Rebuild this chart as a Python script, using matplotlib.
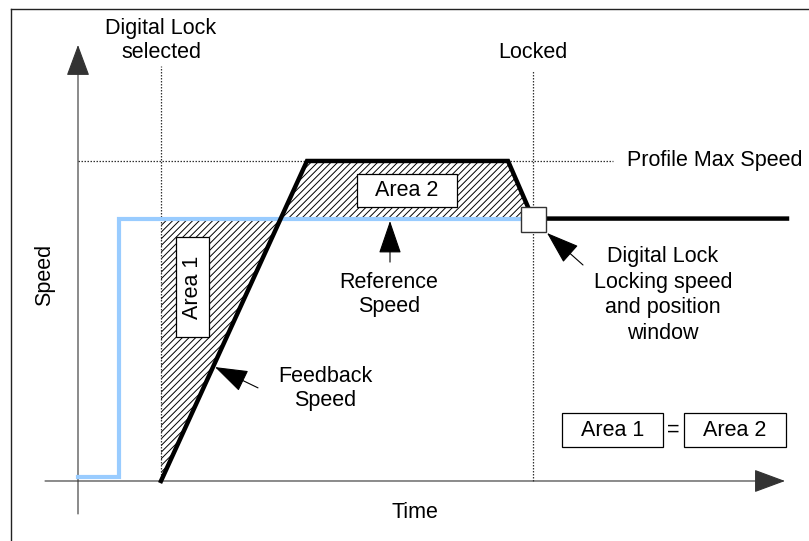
import matplotlib
matplotlib.use("Agg")
import matplotlib.pyplot as plt
from matplotlib.patches import Rectangle, Polygon
from matplotlib.lines import Line2D

plt.rcParams["font.family"] = ["Liberation Sans", "DejaVu Sans"]
plt.rcParams["hatch.linewidth"] = 0.7

# profile data (time units, speed in % of profile max)
ref_t = [0, 4.1, 4.1, 45.5]
ref_v = [1.2, 1.2, 82, 82]
fb_t = [8.3, 22.9, 43.0, 45.5, 70.9]
fb_v = [0, 100, 100, 82, 82]
t_select = 8.3
t_locked = 45.5
v_max = 100
v_ref = 82

# crossing of the feedback ramp with the reference speed
t_cross = fb_t[0] + (fb_t[1] - fb_t[0]) * v_ref / v_max

fig = plt.figure(figsize=(8.09, 5.41), dpi=100)
ax = fig.add_axes([0, 0, 1, 1])
ax.set_xlim(-7.8, 73.1)
ax.set_ylim(-18.75, 150.3)
ax.axis("off")

# frame (left and top edges only visible)
fig.add_artist(Line2D([11 / 809, 11 / 809], [0, 1 - 9 / 541], color="#222222", lw=1))
fig.add_artist(Line2D([11 / 809, 1], [1 - 9 / 541, 1 - 9 / 541], color="#222222", lw=1))

# hatched areas
area1 = Polygon([(t_select, 0), (t_select, v_ref), (t_cross, v_ref)], closed=True,
                facecolor="white", edgecolor="black", hatch="/////", lw=0, zorder=1)
area2 = Polygon([(t_cross, v_ref), (fb_t[1], v_max), (fb_t[2], v_max), (fb_t[3], v_ref)],
                closed=True, facecolor="white", edgecolor="black", hatch="/////", lw=0, zorder=1)
ax.add_patch(area1)
ax.add_patch(area2)

# axes with arrows
arrow_axis = dict(arrowstyle="-|>,head_length=1.0,head_width=0.37", mutation_scale=20,
                  color="#333333", lw=0.8, shrinkA=0, shrinkB=0)
ax.annotate("", xy=(0, 136.25), xytext=(0, -10.3), arrowprops=arrow_axis)
ax.annotate("", xy=(70.7, 0), xytext=(-3.3, 0), arrowprops=arrow_axis)

# dotted guides
dot = dict(color="#333333", lw=0.9, linestyle=(0, (1.2, 1.2)), zorder=3)
ax.plot([t_select, t_select], [0, 129.7], **dot)
ax.plot([t_locked, t_locked], [0, 128.4], **dot)
ax.plot([0, 53.5], [v_max, v_max], **dot)

# speed traces
ax.plot(ref_t, ref_v, color="#99CCFF", lw=3, solid_joinstyle="miter", zorder=4)
ax.plot(fb_t, fb_v, color="black", lw=3.2, solid_joinstyle="miter", zorder=5)
ax.plot([t_locked], [v_ref], marker="s", markersize=18, markerfacecolor="white",
        markeredgecolor="#333333", markeredgewidth=1, zorder=6)

fs = 15.5

# area boxes
def box(x0, x1, y0, y1, label, rot=0):
    ax.add_patch(Rectangle((x0, y0), x1 - x0, y1 - y0, facecolor="white",
                           edgecolor="black", lw=0.9, zorder=7))
    ax.text((x0 + x1) / 2, (y0 + y1) / 2, label, ha="center", va="center",
            rotation=rot, fontsize=fs, zorder=8)

box(27.9, 37.9, 85.6, 95.9, "Area 2")
box(9.8, 13.1, 45.0, 76.25, "Area 1", rot=90)
box(48.4, 58.5, 10.6, 21.25, "Area 1")
box(60.6, 70.8, 10.6, 21.25, "Area 2")
ax.text(59.55, 15.9, "=", ha="center", va="center", fontsize=fs)

# labels
ax.text(t_select, 137.7, "Digital Lock\nselected", ha="center", va="center",
        fontsize=fs, linespacing=1.2)
ax.text(t_locked, 133.75, "Locked", ha="center", va="center", fontsize=fs)
ax.text(54.9, v_max, "Profile Max Speed", ha="left", va="center", fontsize=fs)
ax.text(31.1, 58.3, "Reference\nSpeed", ha="center", va="center", fontsize=fs, linespacing=1.2)
ax.text(24.7, 28.9, "Feedback\nSpeed", ha="center", va="center", fontsize=fs, linespacing=1.2)
ax.text(58.5, 58.1, "Digital Lock\nLocking speed\nand position\nwindow", ha="center",
        va="center", fontsize=fs, linespacing=1.3)
ax.text(-3.3, 64.4, "Speed", ha="center", va="center", rotation=90, fontsize=fs)
ax.text(33.7, -10, "Time", ha="center", va="center", fontsize=fs)

# pointer arrows
arrow_note = dict(arrowstyle="-|>,head_length=1.05,head_width=0.36", mutation_scale=20,
                  color="black", lw=0.8, shrinkA=0, shrinkB=0)
ax.annotate("", xy=(31.2, 81.25), xytext=(31.2, 68.4), arrowprops=arrow_note, zorder=9)
ax.annotate("", xy=(13.7, 35.6), xytext=(18.0, 29.1), arrowprops=arrow_note, zorder=9)
ax.annotate("", xy=(46.9, 77.5), xytext=(50.5, 67.5), arrowprops=arrow_note, zorder=9)

fig.savefig("out.png", dpi=100)
